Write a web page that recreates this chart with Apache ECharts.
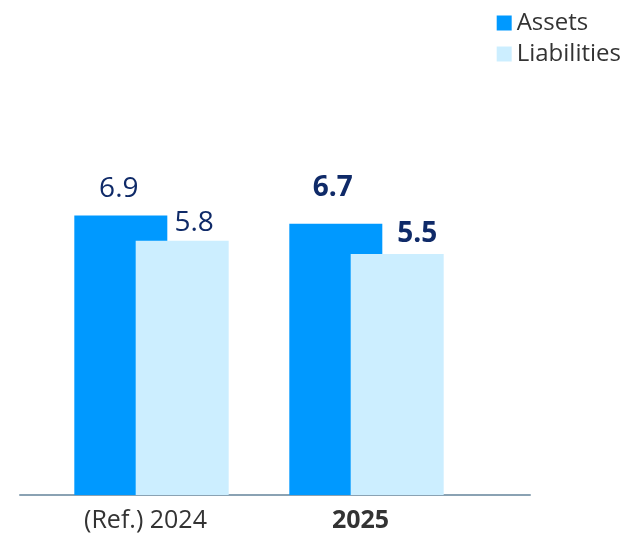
<!DOCTYPE html>
<html>
<head>
<meta charset="utf-8">
<script src="https://cdn.jsdelivr.net/npm/echarts@6/dist/echarts.min.js"></script>
<style>
  html, body { margin: 0; padding: 0; background: #fff; }
  #chart { width: 626px; height: 535px; }
</style>
</head>
<body>
<div id="chart"></div>
<script>
// chart data
const categories = ['(Ref.) 2024', '2025']
const assets = [6.9, 6.7]
const liabilities = [5.8, 5.5]

const navy = '#0f2a68'
const font = '"Open Sans", "Segoe UI", sans-serif'

// label nudges so they sit like the original (x, y)
const assetsLabelOffset = [[-2, -9], [-3, -18]]
const liabLabelOffset = [[12, 0], [20, -2]]

function points (values, offsets) {
  return values.map((v, i) => ({
    value: v,
    label: {
      offset: offsets[i],
      fontWeight: i === 1 ? 'bold' : 'normal'
    }
  }))
}

const chart = echarts.init(document.getElementById('chart'))

const option = {
  animation: false,
  backgroundColor: '#fff',
  legend: {
    orient: 'vertical',
    right: 0,
    top: 6,
    icon: 'rect',
    itemWidth: 15,
    itemHeight: 15,
    itemGap: 7,
    textStyle: { fontSize: 24, color: '#333', fontFamily: font },
    data: ['Assets', 'Liabilities']
  },
  grid: [
    { left: 44, right: 152, top: 90, bottom: 40 },
    // full width grid, only for the long baseline
    { left: 20, right: 96, top: 90, bottom: 40 }
  ],
  xAxis: [
    {
      type: 'category',
      gridIndex: 0,
      data: categories.map((c, i) => ({
        value: c,
        textStyle: { fontWeight: i === 1 ? 'bold' : 'normal' }
      })),
      axisLine: { show: false },
      axisTick: { show: false },
      axisLabel: {
        fontSize: 25,
        color: '#333',
        fontFamily: font,
        margin: 13,
        padding: [0, 12, 0, 0]
      }
    },
    {
      type: 'value',
      gridIndex: 1,
      min: 0,
      max: 1,
      axisLine: { show: true, lineStyle: { color: '#8aa2b3', width: 2 } },
      axisTick: { show: false },
      axisLabel: { show: false },
      splitLine: { show: false }
    }
  ],
  yAxis: [
    { type: 'value', gridIndex: 0, min: 0, max: 10, show: false },
    { type: 'value', gridIndex: 0, min: 0, max: 9.24, show: false },
    { type: 'value', gridIndex: 1, min: 0, max: 1, show: false }
  ],
  series: [
    {
      name: 'Assets',
      type: 'bar',
      xAxisIndex: 0,
      yAxisIndex: 0,
      barWidth: 93,
      barGap: '-34%',
      itemStyle: { color: '#0099ff' },
      label: {
        show: true,
        position: 'top',
        distance: 4,
        fontSize: 28,
        color: navy,
        fontFamily: font
      },
      data: points(assets, assetsLabelOffset)
    },
    {
      name: 'Liabilities',
      type: 'bar',
      xAxisIndex: 0,
      yAxisIndex: 1,
      barWidth: 93,
      barGap: '-34%',
      itemStyle: { color: '#cceeff' },
      label: {
        show: true,
        position: 'top',
        distance: 4,
        fontSize: 28,
        color: navy,
        fontFamily: font
      },
      data: points(liabilities, liabLabelOffset)
    }
  ]
}

chart.setOption(option)
</script>
</body>
</html>
